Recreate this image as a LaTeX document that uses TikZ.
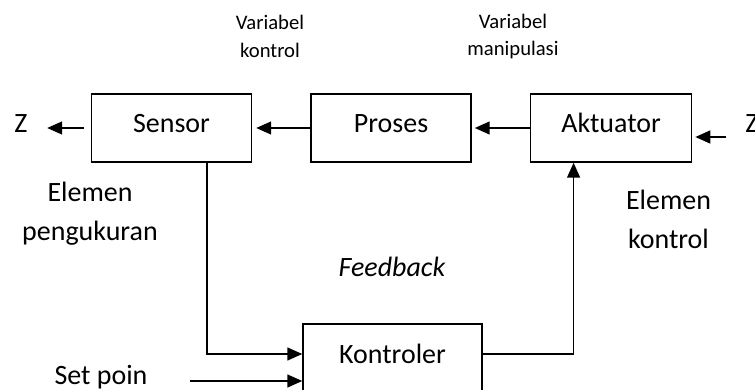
\documentclass[tikz,border=0pt]{standalone}
\usepackage{fontspec}
\setmainfont{Carlito}
\usepackage{tikz}
\usetikzlibrary{positioning, arrows.meta, calc}
\usepackage{xcolor}
\colorlet{BlockStroke}{black}
\colorlet{BlockText}{black}
\colorlet{ArrowColor}{black}
\tikzset{
    % Loop block (Sensor, Proses, Aktuator, Kontroler)
    loopblock/.style={
        draw=BlockStroke,
        text=BlockText,
        rectangle,
        minimum width=4cm,
        minimum height=1.7cm,
        text height=0.45cm,
        text depth=0.2cm,
        font=\fontsize{19.9}{24}\selectfont,
        line width=1.1pt
    },
    % Large side text (Elemen ..., Set poin, Z)
    bigtext/.style={
        align=center,
        inner sep=1pt,
        font=\fontsize{19.9}{27.6}\selectfont
    },
    % Small text above the loop
    smalltext/.style={
        align=center,
        font=\fontsize{14.7}{19.8}\selectfont
    },
    % Signal Arrow Style
    sigarrow/.style={
        -{Triangle[length=10.6pt, width=9.2pt]},
        line width=1.1pt,
        color=ArrowColor
    }
}

\begin{document}
\begin{tikzpicture}
    \useasboundingbox (0,0) rectangle (18.875,9.725);

    % ==========================================
    % BLOCKS
    % ==========================================
    \node[loopblock] (sensor) at (4.2875,6.525) {Sensor};
    \node[loopblock, right=1.45cm of sensor] (proses) {Proses};
    \node[loopblock, right=1.45cm of proses, minimum width=4.025cm] (aktuator) {Aktuator};
    \node[loopblock, minimum width=4.475cm] (kontroler) at (9.8125,0.775) {Kontroler};

    % ==========================================
    % TEXTS
    % ==========================================
    \node[bigtext] (zout) at (0.525,6.625) {Z};
    \node[bigtext] (zin) at (18.8,6.625) {Z};
    \node[smalltext] (varkontrol) at (6.75,8.8125) {Variabel\\kontrol};
    \node[smalltext] (varmanip) at (12.825,8.8125) {Variabel\\manipulasi};
    \node[bigtext] (elukur) at (2.25,4.375) {Elemen\\pengukuran};
    \node[bigtext] (elkontrol) at (16.7125,4.25) {Elemen\\kontrol};
    \node[bigtext, font=\fontsize{19.9}{24}\selectfont\itshape] (feedback) at (9.8,3.0625) {Feedback};
    \node[bigtext] (setpoin) at (2.525,0.3) {Set poin};
    \coordinate (zinstart) at (18.15,6.3);
    \coordinate (spstart) at (4.75,0.2);

    % ==========================================
    % SIGNALS
    % ==========================================
    \draw[sigarrow, shorten <=0.175cm, shorten >=0.45cm] (sensor.west) -- (zout.east |- sensor.west);
    \draw[sigarrow, shorten >=0.1cm] (proses.west) -- (sensor.east);
    \draw[sigarrow, shorten >=0.075cm] (aktuator.west) -- (proses.east);
    \draw[sigarrow, shorten >=0.075cm] (zinstart) -- (aktuator.east |- zinstart);

    % Feedback path and controller output
    \draw[sigarrow] ([xshift=0.8875cm]sensor.south) |- ([yshift=0.1cm]kontroler.west);
    \draw[sigarrow] (spstart) -- (kontroler.west |- spstart);
    \draw[sigarrow] ([yshift=0.1cm]kontroler.east) -| ([xshift=-0.9375cm]aktuator.south);

\end{tikzpicture}
\end{document}
